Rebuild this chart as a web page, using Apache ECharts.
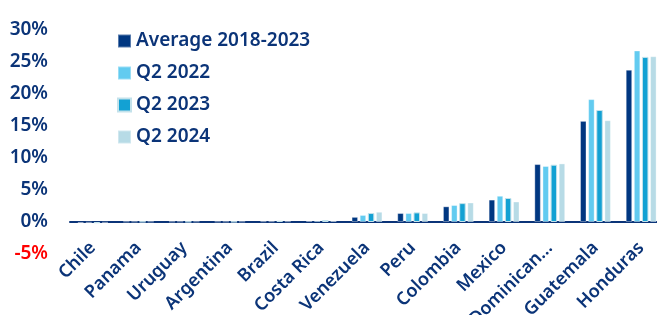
<!DOCTYPE html>
<html>
<head>
<meta charset="utf-8">
<script src="https://cdn.jsdelivr.net/npm/echarts@6/dist/echarts.min.js"></script>
<style>
  html, body { margin: 0; padding: 0; background: #fff; }
  #chart { width: 657px; height: 315px; }
</style>
</head>
<body>
<div id="chart"></div>
<script>
const countries = ["Chile", "Panama", "Uruguay", "Argentina", "Brazil", "Costa Rica", "Venezuela", "Peru", "Colombia", "Mexico", "Dominican…", "Guatemala", "Honduras"];
const avg2018_2023 = [-0.15, 0.05, 0.05, 0.05, 0.1, 0.2, 0.8, 1.4, 2.45, 3.5, 9.05, 15.8, 23.8];
const q2_2022 = [-0.1, 0.05, 0.05, 0.05, 0.1, 0.2, 1.1, 1.4, 2.65, 4.1, 8.75, 19.2, 26.8];
const q2_2023 = [-0.2, 0.05, 0.05, 0.05, 0.2, 0.3, 1.4, 1.5, 2.95, 3.75, 8.95, 17.5, 25.8];
const q2_2024 = [-0.1, 0.05, 0.05, 0.05, 0.1, 0.2, 1.6, 1.4, 3.05, 3.2, 9.15, 15.9, 25.9];
const yTicks = { min: -5, max: 30, step: 5 };

const navy = "#0b3478";
const font = "Noto Sans";

const chart = echarts.init(document.getElementById("chart"));

function bar(name, data, color, border) {
  return {
    name,
    type: "bar",
    data,
    barWidth: 6.5,
    itemStyle: { color, borderColor: border, borderWidth: 1 }
  };
}

chart.setOption({
  animation: false,
  textStyle: { fontFamily: font },
  grid: { left: 70, right: -7, top: 30, bottom: 61, containLabel: false, outerBoundsMode: "none" },
  legend: {
    orient: "vertical",
    left: 112,
    top: 25,
    itemWidth: 13,
    itemHeight: 13,
    itemGap: 10,
    icon: "rect",
    textStyle: { color: navy, fontSize: 19, fontWeight: 600, fontFamily: font, lineHeight: 22 }
  },
  xAxis: {
    type: "category",
    data: countries,
    axisLine: { onZero: true, lineStyle: { color: navy, width: 2 } },
    axisTick: { show: false },
    axisLabel: {
      interval: 0,
      rotate: 45,
      margin: -9,
      hideOverlap: false,
      color: navy,
      fontSize: 18,
      fontWeight: 600,
      fontFamily: font
    }
  },
  yAxis: {
    type: "value",
    min: yTicks.min,
    max: yTicks.max,
    interval: yTicks.step,
    axisLine: { show: false },
    axisTick: { show: false },
    splitLine: { show: false },
    axisLabel: {
      margin: 22,
      fontSize: 19,
      fontWeight: 600,
      fontFamily: font,
      formatter: "{value}%",
      color: (value) => (Number(value) < 0 ? "#ff0000" : navy)
    }
  },
  series: [
    Object.assign(bar("Average 2018-2023", avg2018_2023, "#003781", "rgba(255,255,255,0.35)"), { barGap: "25%", barCategoryGap: "30%" }),
    bar("Q2 2022", q2_2022, "#62cbf0", "rgba(255,255,255,0.35)"),
    bar("Q2 2023", q2_2023, "#13a1d3", "#c3e2eb"),
    bar("Q2 2024", q2_2024, "#b7dbe6", "rgba(255,255,255,0.35)")
  ]
});
</script>
</body>
</html>
